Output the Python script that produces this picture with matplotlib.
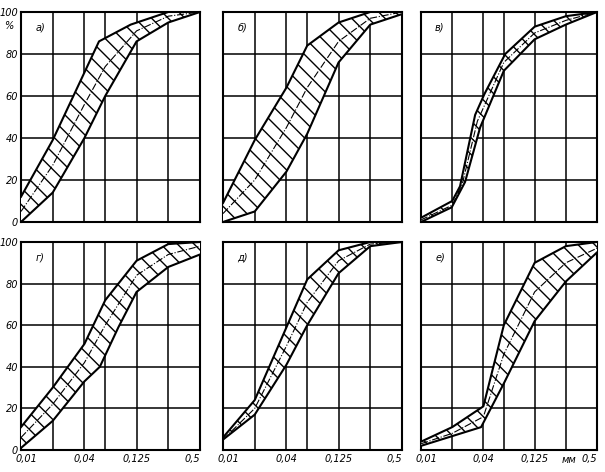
import numpy as np
import matplotlib.pyplot as plt
from matplotlib.ticker import NullLocator
from matplotlib.transforms import ScaledTranslation

# grain size, mm (log scale) and passing, %
grid_x = [0.01, 0.02, 0.04, 0.063, 0.125, 0.25, 0.5]
grid_y = [0, 20, 40, 60, 80, 100]
x_ticks = [0.01, 0.04, 0.125, 0.5]
x_tick_labels = ['0,01', '0,04', '0,125', '0,5']
y_tick_labels = ['0', '20', '40', '60', '80', '100']
panel_names = ['а)', 'б)', 'в)', 'г)', 'д)', 'е)']

# а)
a_up_x = [0.01, 0.02, 0.055, 0.11, 0.25, 0.5]
a_up_y = [12, 39, 86, 94, 100, 100]
a_lo_x = [0.01, 0.02, 0.04, 0.063, 0.125, 0.25, 0.5]
a_lo_y = [0, 14, 40, 60, 86, 95, 100]
a_mid_x = [0.01, 0.02, 0.04, 0.063, 0.125, 0.25, 0.5]
a_mid_y = [5, 27, 56, 74, 91, 98, 100]

# б)
b_up_x = [0.01, 0.02, 0.04, 0.063, 0.125, 0.25, 0.5]
b_up_y = [9, 39, 64, 84, 95, 100, 100]
b_lo_x = [0.01, 0.02, 0.04, 0.063, 0.125, 0.25, 0.5]
b_lo_y = [0, 5, 24, 42, 76, 94, 99]
b_mid_x = [0.01, 0.02, 0.04, 0.063, 0.125, 0.25, 0.5]
b_mid_y = [4, 20, 45, 64, 86, 97, 100]

# в)
c_up_x = [0.01, 0.02, 0.0238, 0.0333, 0.041, 0.065, 0.125, 0.25, 0.5]
c_up_y = [2, 10, 17, 51, 61, 80, 93, 98, 100]
c_lo_x = [0.01, 0.0198, 0.0266, 0.0372, 0.063, 0.125, 0.25, 0.5]
c_lo_y = [0, 7, 19, 45, 72, 87, 94, 100]
c_mid_x = [0.01, 0.02, 0.025, 0.035, 0.063, 0.125, 0.25, 0.5]
c_mid_y = [1, 8, 18, 48, 76, 90, 96, 100]

# г)
d_up_x = [0.01, 0.02, 0.04, 0.063, 0.125, 0.25, 0.5]
d_up_y = [11, 30, 51, 72, 91, 99, 100]
d_lo_x = [0.01, 0.02, 0.04, 0.056, 0.084, 0.125, 0.25, 0.5]
d_lo_y = [1, 14, 33, 40, 59, 76, 88, 94]
d_mid_x = [0.01, 0.02, 0.04, 0.063, 0.125, 0.25, 0.5]
d_mid_y = [6, 22, 42, 60, 84, 94, 98]

# д)
e_up_x = [0.01, 0.02, 0.04, 0.063, 0.125, 0.25, 0.5]
e_up_y = [6, 24, 59, 82, 96, 100, 100]
e_lo_x = [0.01, 0.02, 0.04, 0.063, 0.125, 0.25, 0.5]
e_lo_y = [5, 17, 41, 60, 85, 98, 100]
e_mid_x = [0.01, 0.02, 0.04, 0.063, 0.125, 0.25, 0.5]
e_mid_y = [5, 20, 50, 71, 91, 99, 100]

# е)
f_up_x = [0.01, 0.02, 0.04, 0.063, 0.125, 0.25, 0.5]
f_up_y = [4, 11, 21, 60, 90, 98, 100]
f_lo_x = [0.01, 0.038, 0.063, 0.125, 0.25, 0.5]
f_lo_y = [2, 11, 32, 62, 81, 95]
f_mid_x = [0.01, 0.02, 0.04, 0.063, 0.125, 0.25, 0.5]
f_mid_y = [3, 8, 16, 46, 76, 90, 97]

panels = [
    (a_up_x, a_up_y, a_lo_x, a_lo_y, a_mid_x, a_mid_y),
    (b_up_x, b_up_y, b_lo_x, b_lo_y, b_mid_x, b_mid_y),
    (c_up_x, c_up_y, c_lo_x, c_lo_y, c_mid_x, c_mid_y),
    (d_up_x, d_up_y, d_lo_x, d_lo_y, d_mid_x, d_mid_y),
    (e_up_x, e_up_y, e_lo_x, e_lo_y, e_mid_x, e_mid_y),
    (f_up_x, f_up_y, f_lo_x, f_lo_y, f_mid_x, f_mid_y),
]

plt.rcParams['hatch.linewidth'] = 1.0
fig = plt.figure(figsize=(6.05, 4.72), dpi=100)

lefts = [0.0347, 0.3686, 0.6959]
widths = [0.2959, 0.2959, 0.2909]
rows = [(0.5297, 0.4449), (0.0466, 0.4407)]
txt = dict(fontstyle='italic', fontsize=7, family='DejaVu Sans')
nudge = ScaledTranslation(4 / 72, 0, fig.dpi_scale_trans)

for i, (ux, uy, lx, ly, mx, my) in enumerate(panels):
    r, c = divmod(i, 3)
    ax = fig.add_axes([lefts[c], rows[r][0], widths[c], rows[r][1]])
    ax.set_xscale('log')
    ax.set_xlim(0.01, 0.5)
    ax.set_ylim(0, 100)
    for gx in grid_x:
        ax.axvline(gx, color='black', lw=1.1)
    for gy in grid_y:
        ax.axhline(gy, color='black', lw=1.1)
    poly_x = list(ux) + list(lx)[::-1]
    poly_y = list(uy) + list(ly)[::-1]
    ax.fill(poly_x, poly_y, facecolor='white', edgecolor='none', zorder=3)
    ax.fill(poly_x, poly_y, facecolor='none', edgecolor='black',
            hatch='\\\\', lw=0, zorder=4)
    ax.plot(ux, uy, color='black', lw=1.5, zorder=5)
    ax.plot(lx, ly, color='black', lw=1.5, zorder=5)
    ax.plot(mx, my, color='black', lw=0.8, ls='-.', zorder=5)
    for s in ax.spines.values():
        s.set_linewidth(1.5)
    ax.xaxis.set_minor_locator(NullLocator())
    ax.tick_params(length=0, pad=3)
    if r == 1:
        ax.set_xticks(x_ticks)
        labels = ax.set_xticklabels(x_tick_labels, **txt)
        labels[-1].set_horizontalalignment('right')
    else:
        ax.set_xticks([])
    if c == 0:
        ax.set_yticks(grid_y)
        ax.set_yticklabels(y_tick_labels, **txt)
        ax.tick_params(axis='y', pad=2)
    else:
        ax.set_yticks([])
    ax.text(0.08, 0.95, panel_names[i], transform=ax.transAxes,
            ha='left', va='top', zorder=6, **txt)
    if i == 0:
        ax.text(-0.07, 0.955, '%', transform=ax.transAxes,
                ha='center', va='top', **txt)
    if i == 5:
        ax.text(0.27, -0.025, 'мм', transform=ax.get_xaxis_transform(),
                ha='center', va='top', **txt)

fig.canvas.draw()
for ax in fig.axes[3:]:
    first = ax.get_xticklabels()[0]
    first.set_transform(first.get_transform() + nudge)

fig.savefig('out.png', dpi=100)
